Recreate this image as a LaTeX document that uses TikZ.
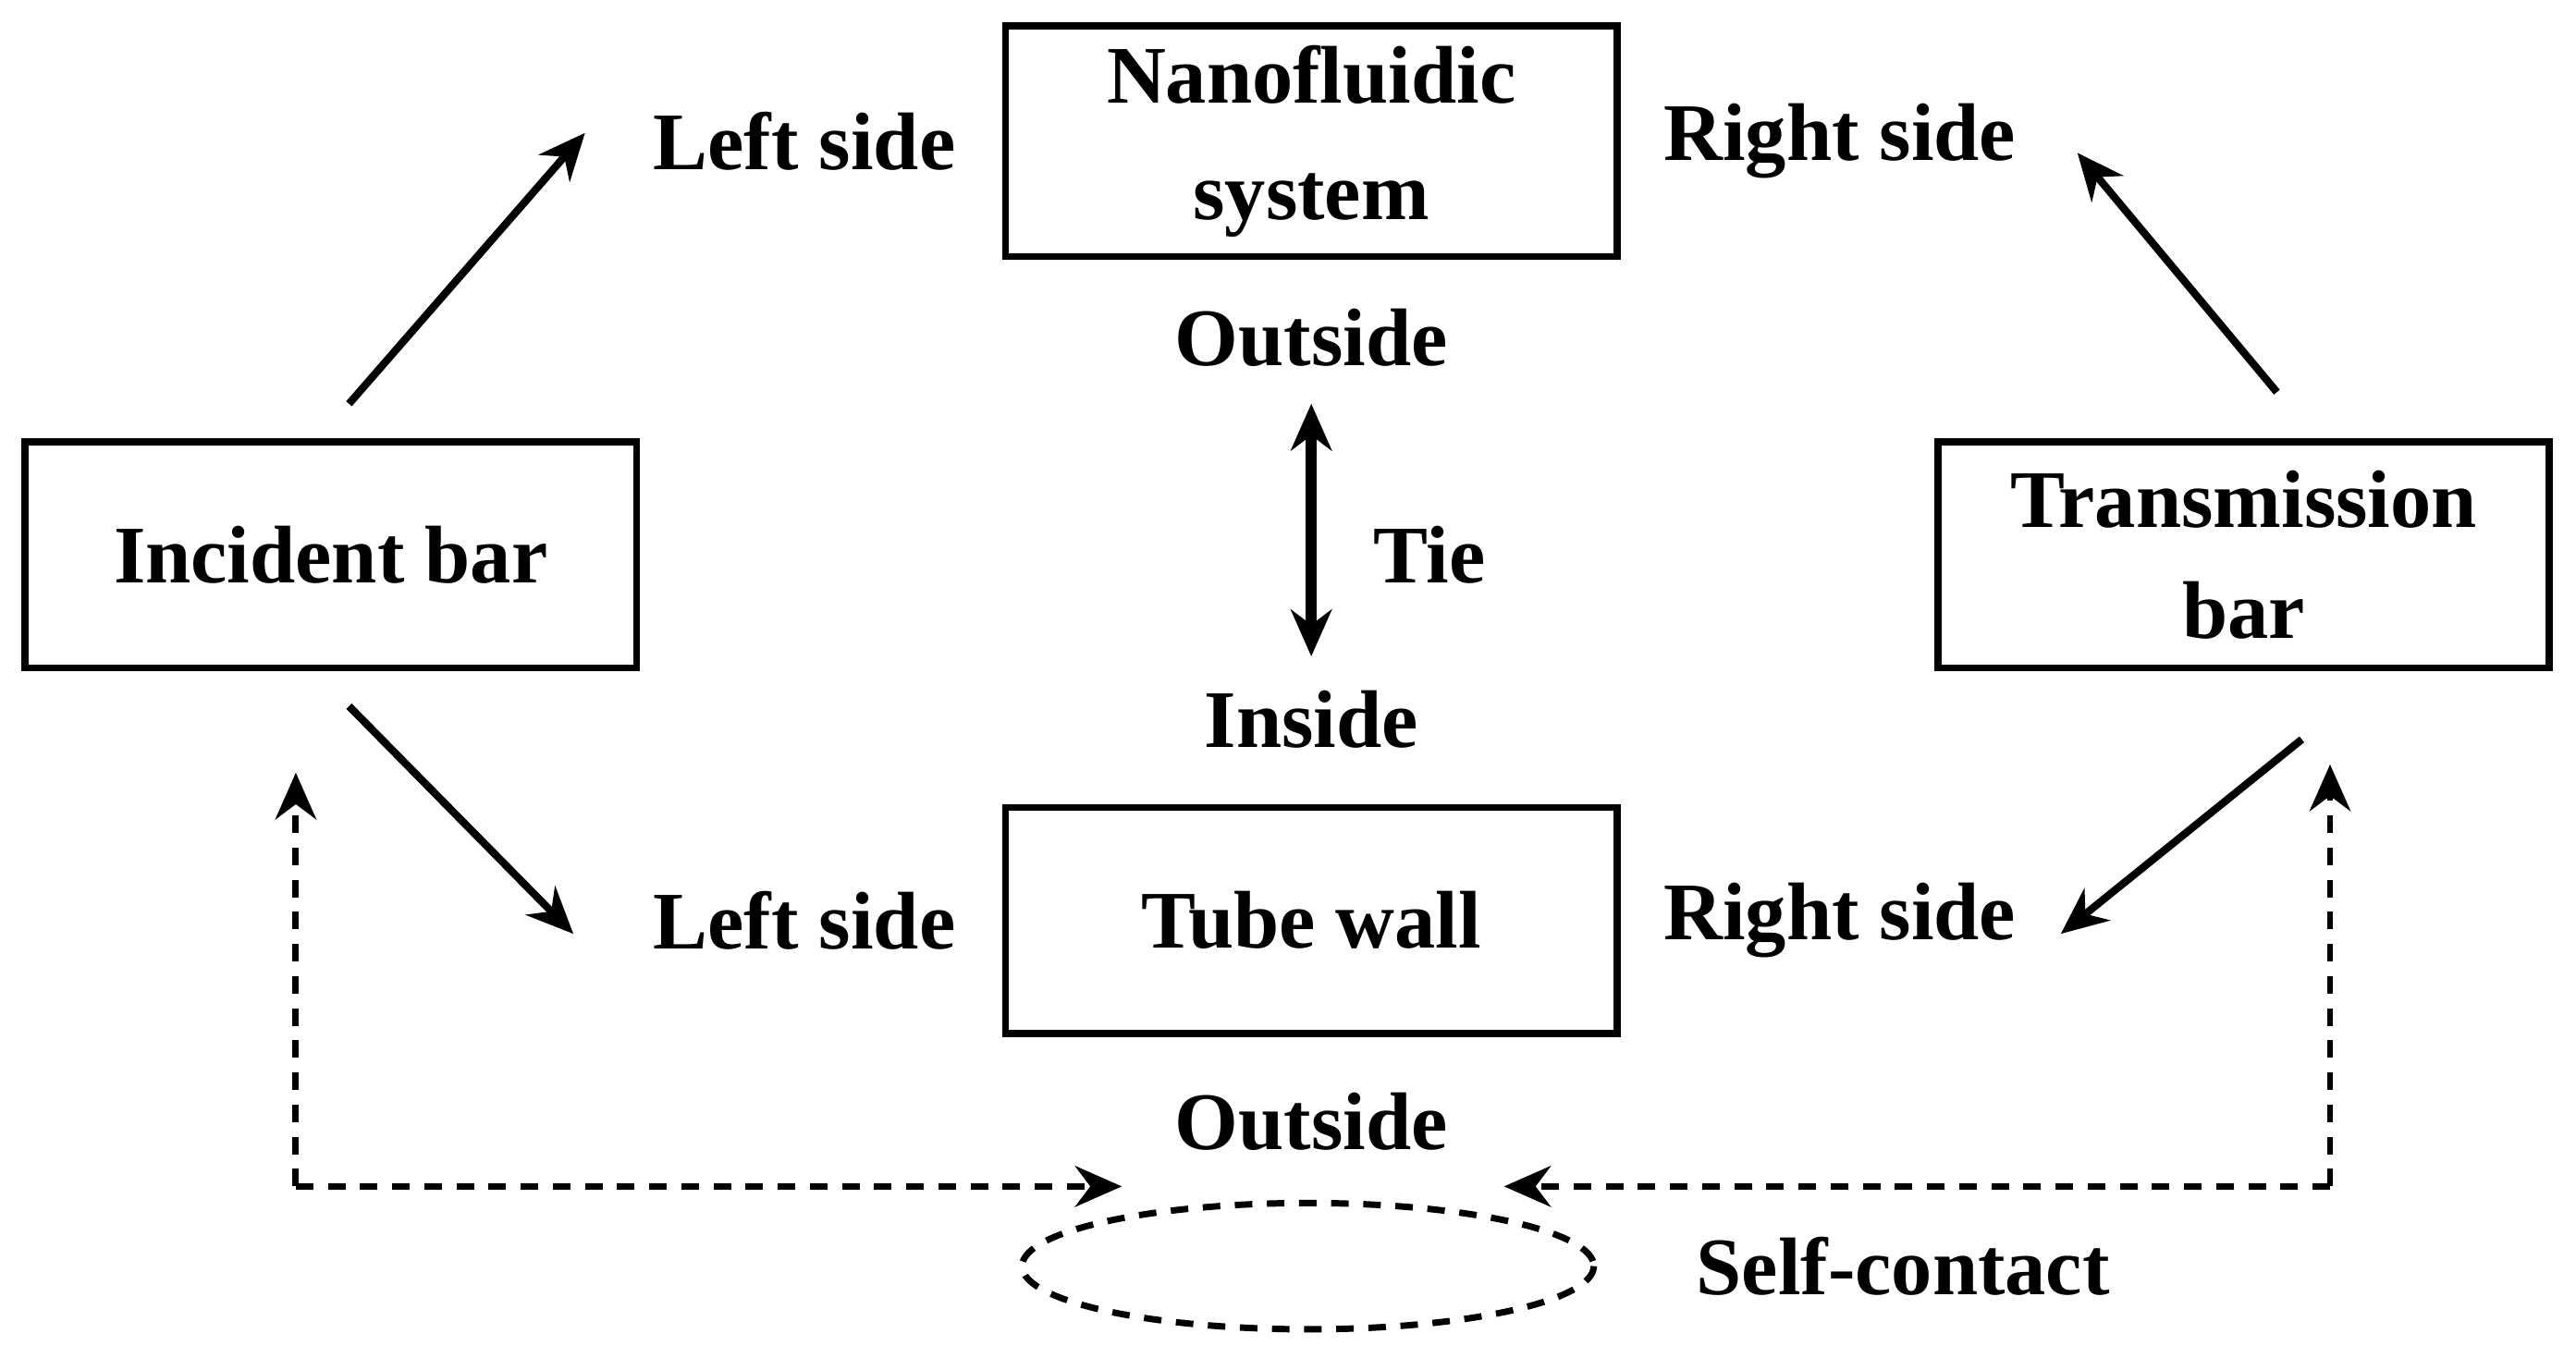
\documentclass[tikz,border=0pt]{standalone}
\usepackage{fontspec}
\setmainfont{Liberation Serif}
\usetikzlibrary{arrows.meta}
\tikzset{
  box/.style={draw, line width=1.2pt, minimum width=3.68cm, minimum height=1.36cm, align=center, font=\fontsize{14}{16}\selectfont\bfseries},
  lbl/.style={font=\fontsize{14}{16}\selectfont\bfseries, inner sep=1pt},
  arr/.style={-{Stealth[length=8pt,width=7pt]}, line width=1.3pt},
  darr/.style={-{Stealth[length=8pt,width=7pt]}, line width=1.1pt, dash pattern=on 3pt off 2.5pt}
}
\begin{document}
\begin{tikzpicture}[x=1cm,y=-1cm]
    \useasboundingbox (0,0) rectangle (15.5,8.17);

    % Boxes
    \node[box] (nano) at (7.89,0.85) {Nanofluidic\\[4pt]system};
    \node[box] (incident) at (1.99,3.34) {Incident bar};
    \node[box] (trans) at (13.50,3.34) {Transmission\\[3pt]bar};
    \node[box] (tube) at (7.89,5.54) {Tube wall};

    % Labels
    \node[lbl] (lefttop) at (4.84,0.85) {Left side};
    \node[lbl] (righttop) at (11.07,0.85) {Right side};
    \node[lbl] (leftbot) at (4.84,5.54) {Left side};
    \node[lbl] (rightbot) at (11.07,5.54) {Right side};
    \node[lbl] (outtop) at (7.89,2.03) {Outside};
    \node[lbl] (tie) at (8.60,3.34) {Tie};
    \node[lbl] (inside) at (7.89,4.33) {Inside};
    \node[lbl] (outbot) at (7.89,6.75) {Outside};
    \node[lbl] (self) at (11.45,7.62) {Self-contact};

    % Solid arrows
    \draw[arr] (2.10,2.43) -- (3.52,0.80);
    \draw[arr] (13.70,2.36) -- (12.50,0.92);
    \draw[arr] (2.10,4.25) -- (3.45,5.62);
    \draw[arr] (13.85,4.45) -- (12.40,5.62);
    \draw[{Stealth[length=8pt,width=7pt]}-{Stealth[length=8pt,width=7pt]}, line width=2pt] (7.89,2.43) -- (7.89,3.95);

    % Dashed loops
    \coordinate (lc) at (1.78,7.14);
    \coordinate (rc) at (14.02,7.14);
    \draw[darr] (lc) -- (1.78,4.65);
    \draw[darr] (lc) -- (6.75,7.14);
    \draw[darr] (rc) -- (14.02,4.60);
    \draw[darr] (rc) -- (9.05,7.14);
    \draw[line width=1.1pt, dash pattern=on 3pt off 2.5pt] (7.87,7.62) ellipse (1.72 and 0.38);
\end{tikzpicture}
\end{document}
